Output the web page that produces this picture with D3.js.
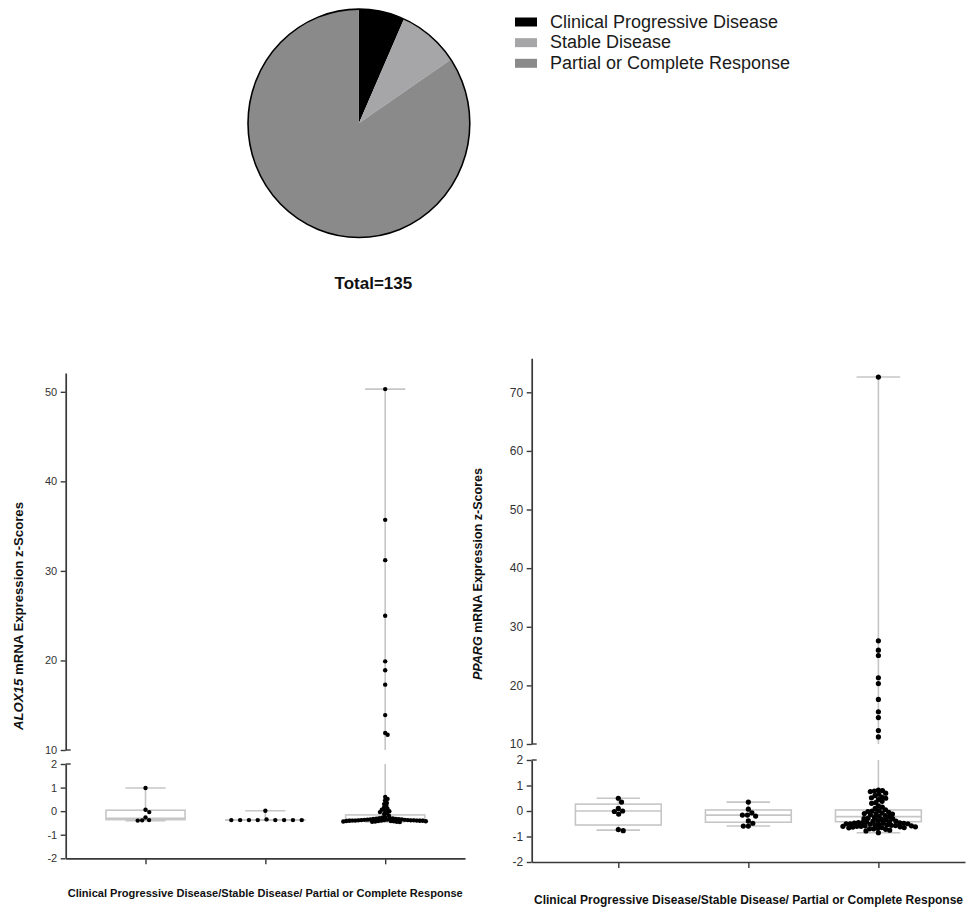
<!DOCTYPE html>
<html>
<head>
<meta charset="utf-8">
<script src="https://cdn.jsdelivr.net/npm/d3@7"></script>
<style>
  html, body { margin: 0; padding: 0; background: #fff; }
  svg { display: block; font-family: "Liberation Sans", Arial, sans-serif; }
</style>
</head>
<body>
<svg id="chart" width="969" height="911"></svg>
<script>
// ---------------- DATA ----------------
const pieLabels = ["Clinical Progressive Disease", "Stable Disease", "Partial or Complete Response"];
const pieCounts = [9, 12, 114];
const pieColors = ["#000000", "#a6a6a8", "#8a8a8a"];
const totalLabel = "Total=135";

const categories = ["Clinical Progressive Disease", "Stable Disease", "Partial or Complete Response"];
const xAxisTitle = "Clinical Progressive Disease/Stable Disease/ Partial or Complete Response";

// ALOX15 z-scores
const aloxCPD = [0.98, 0.06, -0.04, -0.27, -0.38, -0.39, -0.40];
const aloxSD = [0.02, -0.35, -0.38, -0.38, -0.38, -0.38, -0.38, -0.38, -0.38, -0.38];
const aloxPR = [50.3, 35.7, 31.2, 25.0, 19.9, 18.9, 17.3, 13.9, 11.9, 11.7,
  0.6, 0.52, 0.45, 0.35, 0.3, 0.22, 0.15, 0.1, 0.06, 0.02, 0.0, -0.04, -0.08, -0.12, -0.18,
  -0.26, -0.28, -0.3, -0.3, -0.31, -0.32, -0.33, -0.33, -0.34, -0.35, -0.35, -0.36, -0.36,
  -0.37, -0.37, -0.38, -0.38, -0.38, -0.39, -0.39, -0.39, -0.4, -0.4, -0.4, -0.4, -0.41,
  -0.41, -0.41, -0.42, -0.42, -0.42, -0.43, -0.43, -0.44, -0.44, -0.45, -0.45, -0.46];
const aloxBoxMin = [-0.40, -0.38, -0.46];
const aloxBoxQ1  = [-0.36, -0.38, -0.40];
const aloxBoxMed = [-0.30, -0.38, -0.33];
const aloxBoxQ3  = [0.04, -0.38, -0.16];
const aloxBoxMax = [0.98, 0.02, 50.3];

// PPARG z-scores
const ppargCPD = [0.5, 0.35, 0.1, 0.0, -0.02, -0.12, -0.73, -0.77];
const ppargSD = [0.35, 0.07, -0.07, -0.16, -0.16, -0.2, -0.39, -0.48, -0.59, -0.59];
const ppargPR = [72.6, 27.6, 26.0, 25.1, 21.3, 20.3, 17.6, 15.5, 14.5, 12.3, 11.2,
  0.82, 0.8, 0.78, 0.76, 0.7, 0.66, 0.6, 0.55, 0.52, 0.5, 0.45, 0.38, 0.33, 0.3, 0.2, 0.15,
  0.1, 0.05, 0.02, 0.0, -0.02, -0.05, -0.07, -0.1, -0.1, -0.12, -0.15, -0.18, -0.2, -0.22,
  -0.25, -0.28, -0.3, -0.3, -0.33, -0.35, -0.38, -0.4, -0.4, -0.42, -0.43, -0.45, -0.45,
  -0.46, -0.47, -0.48, -0.48, -0.5, -0.5, -0.5, -0.52, -0.53, -0.55, -0.55, -0.56, -0.57,
  -0.58, -0.58, -0.6, -0.6, -0.6, -0.62, -0.62, -0.63, -0.65, -0.65, -0.66, -0.68, -0.7,
  -0.7, -0.72, -0.75, -0.78, -0.85];
const ppargBoxMin = [-0.75, -0.59, -0.85];
const ppargBoxQ1  = [-0.55, -0.44, -0.42];
const ppargBoxMed = [0.0, -0.16, -0.22];
const ppargBoxQ3  = [0.27, 0.04, 0.04];
const ppargBoxMax = [0.5, 0.35, 72.6];

const aloxUpperTicks = [10, 20, 30, 40, 50];
const ppargUpperTicks = [10, 20, 30, 40, 50, 60, 70];
const lowerTicks = [-2, -1, 0, 1, 2];

// ---------------- DRAW ----------------
const svg = d3.select("#chart");
const FONT = "'Liberation Sans', Arial, sans-serif";

// ---- Pie ----
const pcx = 358.9, pcy = 123.3, prx = 110.9, pry = 114.2;
const pieG = svg.append("g").attr("transform", `translate(${pcx},${pcy}) scale(${prx / pry},1)`);
const pie = d3.pie().sort(null).value(d => d)(pieCounts);
const arc = d3.arc().innerRadius(0).outerRadius(pry);
pieG.selectAll("path").data(pie).join("path")
  .attr("d", arc).attr("fill", (d, i) => pieColors[i]);
svg.append("ellipse").attr("cx", pcx).attr("cy", pcy).attr("rx", prx).attr("ry", pry)
  .attr("fill", "none").attr("stroke", "#000").attr("stroke-width", 1.6);

svg.append("text").attr("x", 373.4).attr("y", 289).attr("text-anchor", "middle")
  .attr("font-weight", "bold").attr("font-size", 17).attr("fill", "#111").text(totalLabel);

// Legend
const legendY = d3.scalePoint().domain(pieLabels).range([22, 63.3]);
const lg = svg.append("g");
pieLabels.forEach((lab, i) => {
  lg.append("rect").attr("x", 515).attr("y", legendY(lab) - 4.5).attr("width", 22).attr("height", 9)
    .attr("fill", pieColors[i]);
  lg.append("text").attr("x", 550).attr("y", legendY(lab) + 5.5).attr("font-size", 18)
    .attr("fill", "#1a1a1a").text(lab);
});

// ---- Beeswarm helper ----
function swarm(vals, yFn, cx, d) {
  const pts = vals.map(v => ({ v, y: yFn(v) })).sort((a, b) => a.y - b.y);
  const placed = [];
  pts.forEach(p => {
    const cands = [0];
    placed.forEach(q => {
      const dy = Math.abs(q.y - p.y);
      if (dy < d) {
        const dx = Math.sqrt(d * d - dy * dy);
        cands.push(q.dx + dx + 0.01, q.dx - dx - 0.01);
      }
    });
    cands.sort((a, b) => Math.abs(a) - Math.abs(b));
    for (const c of cands) {
      if (placed.every(q => (q.dx - c) ** 2 + (q.y - p.y) ** 2 >= d * d - 0.05)) { p.dx = c; break; }
    }
    if (p.dx === undefined) p.dx = 0;
    placed.push(p);
  });
  return pts.map(p => ({ v: p.v, x: cx + p.dx, y: p.y }));
}

// ---- Panel ----
function panel(cfg) {
  const g = svg.append("g");
  const x = d3.scalePoint().domain(categories).range(cfg.xRange).padding(0.666);
  const yU = d3.scaleLinear().domain(cfg.upperDomain).range(cfg.upperRange);
  const yL = d3.scaleLinear().domain([-2, 2]).range(cfg.lowerRange);
  const yFn = v => (v > 2 ? yU(v) : yL(v));
  const step = x.step();
  const boxW = step * 0.66, capW = step * 0.335;
  const gray = "#c6c6c6";

  // boxes & whiskers
  categories.forEach((c, i) => {
    const cx = x(c);
    const bg = g.append("g").attr("stroke", gray).attr("stroke-width", 1.6).attr("fill", "none");
    const q1 = cfg.q1[i], q3 = cfg.q3[i], med = cfg.med[i], mn = cfg.min[i], mx = cfg.max[i];
    if (mx > 2) {
      bg.append("line").attr("x1", cx).attr("x2", cx).attr("y1", yL(q3)).attr("y2", yL(2));
      bg.append("line").attr("x1", cx).attr("x2", cx).attr("y1", yU(cfg.upperDomain[0])).attr("y2", yU(mx));
    } else {
      bg.append("line").attr("x1", cx).attr("x2", cx).attr("y1", yL(q3)).attr("y2", yL(mx));
    }
    bg.append("line").attr("x1", cx - capW / 2).attr("x2", cx + capW / 2).attr("y1", yFn(mx)).attr("y2", yFn(mx));
    bg.append("line").attr("x1", cx).attr("x2", cx).attr("y1", yL(q1)).attr("y2", yL(mn));
    bg.append("line").attr("x1", cx - capW / 2).attr("x2", cx + capW / 2).attr("y1", yL(mn)).attr("y2", yL(mn));
    bg.append("rect").attr("x", cx - boxW / 2).attr("width", boxW)
      .attr("y", yL(q3)).attr("height", Math.max(0.01, yL(q1) - yL(q3)));
    bg.append("line").attr("x1", cx - boxW / 2).attr("x2", cx + boxW / 2).attr("y1", yL(med)).attr("y2", yL(med));
  });

  // dots
  cfg.series.forEach((vals, i) => {
    const pts = swarm(vals, yFn, x(categories[i]), cfg.spacing[i]);
    g.append("g").selectAll("circle").data(pts).join("circle")
      .attr("cx", d => d.x).attr("cy", d => d.y).attr("r", cfg.r).attr("fill", "#000");
  });

  // axes
  const axColor = "#383838";
  const fmt = d => String(d);
  const styleAxis = a => {
    a.select(".domain").attr("stroke", axColor).attr("stroke-width", 1.7);
    a.selectAll(".tick line").attr("stroke", axColor).attr("stroke-width", 1.4);
    a.selectAll(".tick text").attr("fill", "#333").attr("font-size", cfg.tickFs).attr("font-family", FONT);
  };
  const aU = g.append("g").attr("transform", `translate(${cfg.xRange[0]},0)`)
    .call(d3.axisLeft(yU).tickValues(cfg.upperTicks).tickFormat(fmt).tickSize(5).tickSizeOuter(0).tickPadding(3.5));
  styleAxis(aU);
  const aL = g.append("g").attr("transform", `translate(${cfg.xRange[0]},0)`)
    .call(d3.axisLeft(yL).tickValues(lowerTicks).tickFormat(fmt).tickSize(5).tickSizeOuter(0).tickPadding(3.5));
  styleAxis(aL);
  [[aU, yU(cfg.upperDomain[0])], [aL, yL(2)]].forEach(([a, yy]) => {
    a.append("line").attr("x1", 0).attr("x2", 5).attr("y1", yy).attr("y2", yy)
      .attr("stroke", axColor).attr("stroke-width", 1.4);
  });
  const aX = g.append("g").attr("transform", `translate(0,${cfg.lowerRange[0]})`)
    .call(d3.axisBottom(x).tickSize(6).tickSizeOuter(0).tickFormat(""));
  styleAxis(aX);

  // titles
  const yt = g.append("text").attr("transform", `translate(${cfg.yTitleX},${cfg.yTitleY}) rotate(-90)`)
    .attr("text-anchor", "middle").attr("dy", "0.35em").attr("font-weight", "bold")
    .attr("font-size", cfg.yTitleFs).attr("fill", "#111")
    .attr("textLength", cfg.yTitleLen).attr("lengthAdjust", "spacingAndGlyphs");
  yt.append("tspan").attr("font-style", "italic").text(cfg.gene);
  yt.append("tspan").text(" mRNA Expression z-Scores");

  g.append("text").attr("x", cfg.xTitleX).attr("y", cfg.xTitleY).attr("text-anchor", "middle")
    .attr("font-weight", "bold").attr("font-size", cfg.xTitleFs).attr("fill", "#111")
    .attr("textLength", cfg.xTitleLen).attr("lengthAdjust", "spacingAndGlyphs")
    .text(xAxisTitle);
}

panel({
  gene: "ALOX15",
  xRange: [65.7, 465],
  upperDomain: [10, 52.1], upperRange: [750, 373],
  lowerRange: [858.3, 764],
  upperTicks: aloxUpperTicks,
  series: [aloxCPD, aloxSD, aloxPR],
  spacing: [4.4, 8.8, 3.0],
  r: 2.2,
  min: aloxBoxMin, q1: aloxBoxQ1, med: aloxBoxMed, q3: aloxBoxQ3, max: aloxBoxMax,
  tickFs: 11,
  yTitleX: 18.3, yTitleY: 616, yTitleFs: 13, yTitleLen: 228,
  xTitleX: 265.2, xTitleY: 897, xTitleFs: 11, xTitleLen: 395
});

panel({
  gene: "PPARG",
  xRange: [531.7, 965],
  upperDomain: [10, 75.8], upperRange: [744, 358.3],
  lowerRange: [862, 760],
  upperTicks: ppargUpperTicks,
  series: [ppargCPD, ppargSD, ppargPR],
  spacing: [5.0, 5.0, 4.1],
  r: 2.6,
  min: ppargBoxMin, q1: ppargBoxQ1, med: ppargBoxMed, q3: ppargBoxQ3, max: ppargBoxMax,
  tickFs: 12,
  yTitleX: 477, yTitleY: 574, yTitleFs: 13, yTitleLen: 212,
  xTitleX: 748.5, xTitleY: 904, xTitleFs: 12, xTitleLen: 429
});
</script>
</body>
</html>
